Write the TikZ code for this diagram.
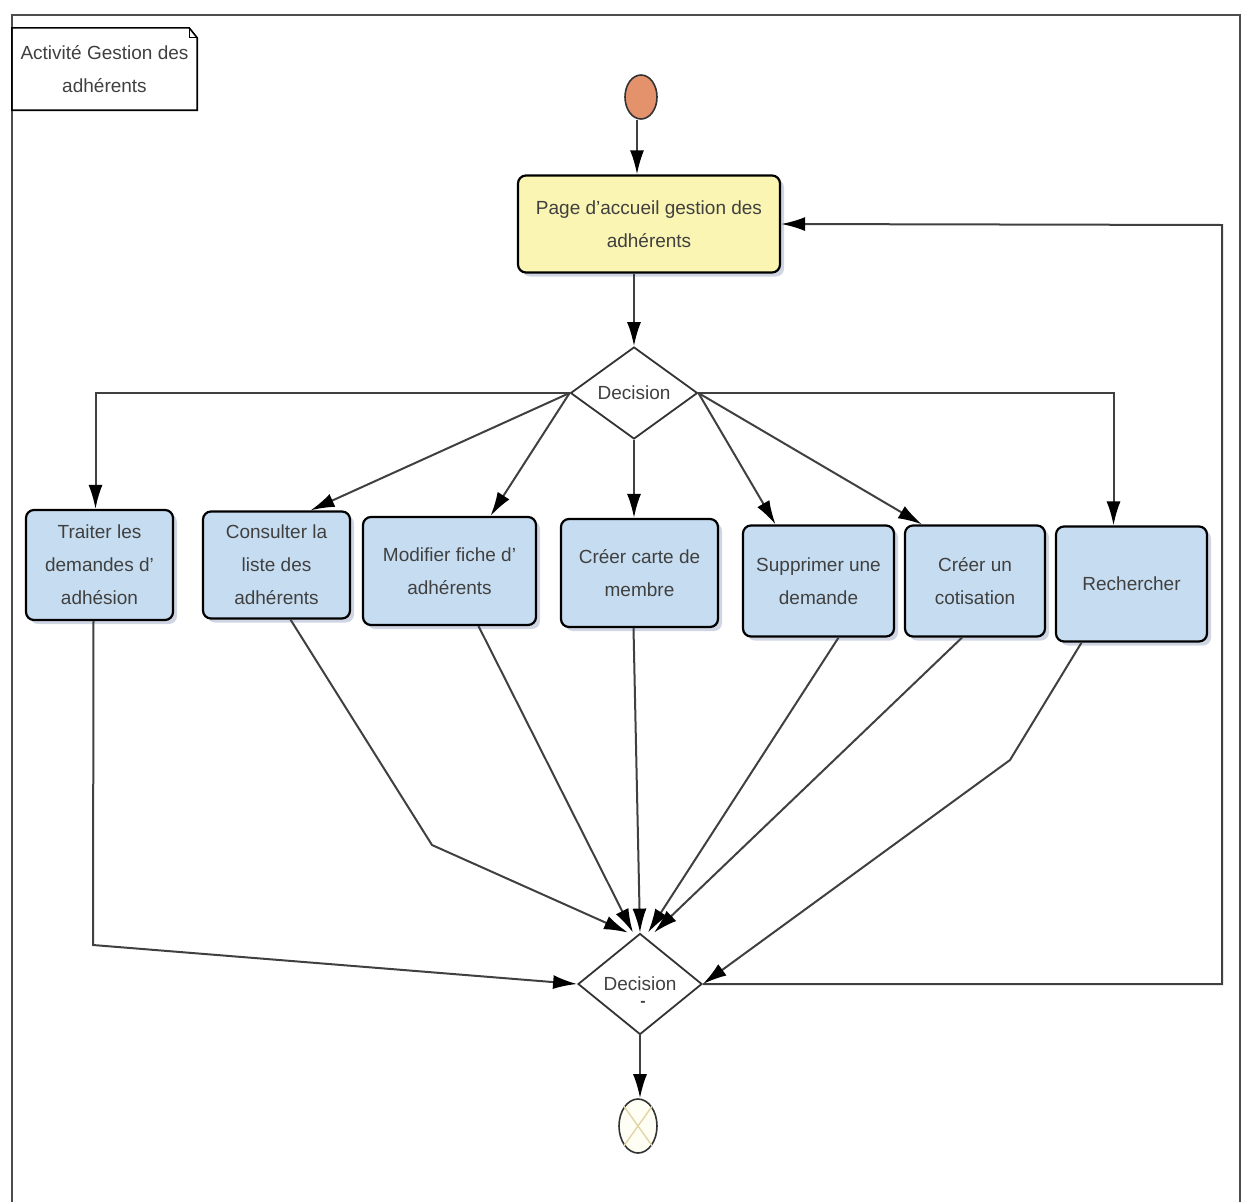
\documentclass[tikz,border=0pt]{standalone}
\usepackage{fontspec}
\setmainfont{Liberation Sans}
\usepackage{tikz}
\usetikzlibrary{shapes.geometric,arrows.meta,shadows}
\definecolor{boxblue}{RGB}{198,221,241}
\definecolor{pageyellow}{RGB}{250,245,178}
\definecolor{shadowblue}{RGB}{160,172,198}
\definecolor{startorange}{RGB}{228,146,108}
\definecolor{crosscol}{RGB}{225,212,165}

\begin{document}
\begin{tikzpicture}[x=1pt,y=-1pt,font=\fontsize{19}{33}\selectfont,
>={Latex[length=24pt,width=14pt,color=black]},
act/.style={draw=black,line width=2.2pt,rounded corners=8pt,fill=boxblue,align=center,text=black!75,inner sep=0pt,
 drop shadow={shadow xshift=4pt,shadow yshift=-4pt,fill=shadowblue}},
dec/.style={diamond,draw=black!80,line width=1.8pt,fill=white,inner sep=0pt,text=black!75},
flow/.style={->,draw=black!75,line width=2pt}]
\useasboundingbox (0,0) rectangle (1246,1202);
\draw[black!70,line width=1.6pt] (12,1202) -- (12,15) -- (1240,15) -- (1240,1202);
\node[minimum width=185,minimum height=82,align=center,inner sep=0pt,text=black!75] (n) at (104.5,69) {Activité Gestion des\\adhérents};
\draw[line width=1.6pt] (n.south west) -- (n.north west) -- ([xshift=-8pt]n.north east) -- ([yshift=-10pt]n.north east) -- (n.south east) -- cycle;
\draw[line width=1pt] ([xshift=-8pt]n.north east) -- ([xshift=-8pt,yshift=-10pt]n.north east) -- ([yshift=-10pt]n.north east);
\node[ellipse,draw=black!80,line width=1.6pt,fill=startorange,minimum width=32,minimum height=44,inner sep=0pt] (s) at (641,97) {};
\node[act,fill=pageyellow,minimum width=262,minimum height=97] (p) at (649,224) {Page d'accueil gestion des\\adhérents};
\node[dec,minimum width=127,minimum height=92] (d1) at (634,393) {Decision};
\node[act,minimum width=147,minimum height=110] (a1) at (99.5,565) {Traiter les\\demandes d'\\adhésion};
\node[act,minimum width=147,minimum height=107] (a2) at (276.5,565) {Consulter la\\liste des\\adhérents};
\node[act,minimum width=173,minimum height=108] (a3) at (449.5,571) {Modifier fiche d'\\adhérents};
\node[act,minimum width=157,minimum height=108] (a4) at (639.5,573) {Créer carte de\\membre};
\node[act,minimum width=151,minimum height=111] (a5) at (818.5,581) {Supprimer une\\demande};
\node[act,minimum width=140,minimum height=111] (a6) at (975,581) {Créer un\\cotisation};
\node[act,minimum width=151,minimum height=115] (a7) at (1131.5,584) {Rechercher};
\node[dec,minimum width=124,minimum height=101] (d2) at (640,984) {Decision};
\node[inner sep=0pt,font=\fontsize{16}{16}\selectfont\bfseries,text=black!75] (d2m) at (643,1004) {-};
\node[ellipse,draw=black!80,line width=1.6pt,fill=yellow!4,minimum width=38,minimum height=54,inner sep=0pt] (fin) at (638,1126) {};
\draw[crosscol,line width=1.4pt] (fin.north west) -- (fin.south east) (fin.north east) -- (fin.south west);
\coordinate (k1) at (93,945);
\coordinate (k2) at (432,845);
\coordinate (k3) at (1010,760);
\coordinate (k4) at (1222,225);
\draw[flow] ([xshift=-4pt]s.south) -- ([xshift=-4pt]s.south |- p.north);
\draw[flow] (d1 |- p.south) -- (d1.north);
\draw[flow] (d1.west) -| ([xshift=-4pt]a1.north);
\draw[flow] (d1.west) -- ([xshift=34pt]a2.north);
\draw[flow] (d1.west) -- ([xshift=41pt]a3.north);
\draw[flow] (d1.south) -- (d1.south |- a4.north);
\draw[flow] (d1.east) -- ([xshift=-43pt]a5.north);
\draw[flow] (d1.east) -- ([xshift=-53pt]a6.north);
\draw[flow] (d1.east) -| ([xshift=-18pt]a7.north);
\draw[flow] ([xshift=-6pt]a1.south) -- (k1) -- (d2.west);
\draw[flow] ([xshift=14pt]a2.south) -- (k2) -- ([xshift=-12pt]d2.north);
\draw[flow] ([xshift=29pt]a3.south) -- ([xshift=-7pt]d2.north);
\draw[flow] ([xshift=-6pt]a4.south) -- (d2.north);
\draw[flow] ([xshift=20pt]a5.south) -- ([xshift=8pt]d2.north);
\draw[flow] ([xshift=-13pt]a6.south) -- ([xshift=14pt]d2.north);
\draw[flow] ([xshift=-50pt]a7.south) -- (k3) -- (d2.east);
\draw[flow] (d2.east) -| (k4) -- (p.east);
\draw[flow] (d2.south) -- (d2.south |- fin.north);
\end{tikzpicture}
\end{document}
